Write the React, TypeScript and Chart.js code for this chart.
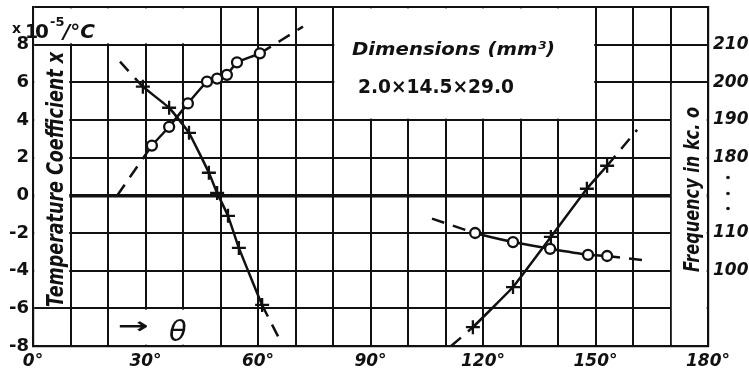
import React, { useEffect, useRef } from 'react';
import { Chart, registerables } from 'chart.js';
Chart.register(...registerables);

// ---- data ----
const xTickLabels = ['0°', '30°', '60°', '90°', '120°', '150°', '180°'];
const yTickValues = [8, 6, 4, 2, 0, -2, -4, -6, -8];
const freqTickValues = [210, 200, 190, 180, 110, 100];

// frequency (kc), low-angle branch (first & last = dashed extension ends)
const freqLowDeg = [22.5, 31.7, 36.3, 41.3, 46.4, 49.1, 51.7, 54.4, 60.5, 72];
const freqLowKc = [170, 183.2, 188.2, 194.4, 200.2, 201, 202, 205.3, 207.7, 214.8];
// temperature coefficient (x10^-5/°C), low-angle branch
const tcLowDeg = [23.2, 29.3, 36.3, 41.6, 46.9, 49.1, 52, 54.9, 61.1, 65.9];
const tcLowVal = [7.1, 5.77, 4.65, 3.32, 1.2, 0.13, -1.09, -2.79, -5.82, -7.7];
// temperature coefficient, high-angle branch
const tcHighDeg = [111.5, 117.3, 128, 138.1, 147.7, 153.1, 161.1];
const tcHighVal = [-8, -7.0, -4.87, -2.21, 0.35, 1.57, 3.48];
// frequency (kc), high-angle branch
const freqHighDeg = [106.4, 117.9, 128, 137.9, 148, 153.1, 162.4];
const freqHighKc = [113.8, 110.0, 107.6, 105.8, 104.2, 103.9, 102.8];

// broken right-hand frequency axis mapped onto the left scale
const freqToAxis = (f: number) => (f >= 150 ? (f - 170) / 5 : (f - 120) / 5);
const freqLabelAt: Record<string, string> = {};
freqTickValues.forEach((f) => { freqLabelAt[String(freqToAxis(f))] = String(f); });

// blank (label) cells of the grid: [x0, x1, y0, y1] in data units
const blankRegions = [
  [0, 50, 8, 10],
  [80, 150, 4, 10],
  [0, 10, -6, 8],
  [170, 180, -8, 6],
  [20, 50, -8, -6],
];

const INK = '#111';

function series(xs: number[], ys: number[], style: string, r: number) {
  const last = xs.length - 1;
  return {
    data: xs.map((x, i) => ({ x, y: ys[i] })),
    showLine: true,
    borderColor: INK,
    borderWidth: 2.5,
    tension: 0.1,
    pointStyle: style,
    pointRadius: (c: any) => (c.dataIndex === 0 || c.dataIndex === last ? 0 : r),
    pointBackgroundColor: '#fff',
    pointBorderColor: INK,
    pointBorderWidth: 2.3,
    segment: {
      borderDash: (c: any) => (c.p0DataIndex === 0 || c.p1DataIndex === last ? [13, 9] : undefined),
    },
  };
}

function fitText(ctx: CanvasRenderingContext2D, text: string, x: number, y: number, width: number, font: string, rotate = false) {
  ctx.save();
  ctx.font = font;
  const w = ctx.measureText(text).width;
  ctx.translate(x, y);
  if (rotate) ctx.rotate(-Math.PI / 2);
  ctx.scale(width / w, 1);
  ctx.textBaseline = 'alphabetic';
  ctx.textAlign = 'left';
  ctx.fillText(text, 0, 0);
  ctx.restore();
}

const overlay = {
  id: 'overlay',
  beforeDatasetsDraw(chart: any) {
    const { ctx } = chart;
    const xs = chart.scales.x, ys = chart.scales.y;
    ctx.save();
    ctx.fillStyle = '#fff';
    for (const [x0, x1, y0, y1] of blankRegions) {
      const L = xs.getPixelForValue(x0), R = xs.getPixelForValue(x1);
      const T = ys.getPixelForValue(y1), B = ys.getPixelForValue(y0);
      ctx.fillRect(L + 1.3, T + 1.3, R - L - 2.6, B - T - 2.6);
    }
    ctx.restore();
  },
  afterDatasetsDraw(chart: any) {
    const { ctx } = chart;
    const ys = chart.scales.y;
    ctx.save();
    ctx.fillStyle = INK;
    const F = '"DejaVu Sans"';
    // unit label
    ctx.font = `bold 14px ${F}`;
    ctx.fillText('x', 12, 33);
    ctx.font = `bold 19px ${F}`;
    ctx.fillText('1', 25, 38);
    ctx.font = `bold 20px ${F}`;
    ctx.fillText('0', 35, 38);
    ctx.font = `bold 13px ${F}`;
    ctx.fillText('-5', 50, 26);
    ctx.font = `italic bold 20px ${F}`;
    ctx.fillText('/°C', 63, 38);
    // dimensions box
    fitText(ctx, 'Dimensions (mm³)', 352, 55, 203, `italic bold 18px ${F}`);
    fitText(ctx, '2.0×14.5×29.0', 358, 93, 156, `bold 19px ${F}`);
    // axis titles
    fitText(ctx, 'Temperature Coefficient x', 63, 307, 255, `italic bold 23px ${F}`, true);
    fitText(ctx, 'Frequency in kc. o', 699, 272, 165, `italic bold 22px ${F}`, true);
    // theta arrow
    fitText(ctx, '→', 118, 333, 31, `bold 22px ${F}`);
    ctx.font = `italic 29px ${F}`;
    ctx.fillText('θ', 169, 341);
    // axis break dots
    for (const v of [0.95, 0.1, -0.7]) {
      ctx.beginPath();
      ctx.arc(728, ys.getPixelForValue(v), 1.8, 0, Math.PI * 2);
      ctx.fill();
    }
    ctx.restore();
  },
};

export default function App() {
  const ref = useRef<HTMLCanvasElement>(null);
  useEffect(() => {
    document.body.style.margin = '0';
    const canvas = ref.current!;
    const chart = new Chart(canvas, {
      type: 'scatter',
      data: {
        datasets: [
          series(tcLowDeg, tcLowVal, 'cross', 7) as any,
          series(tcHighDeg, tcHighVal, 'cross', 7) as any,
          series(freqLowDeg, freqLowKc.map(freqToAxis), 'circle', 5) as any,
          series(freqHighDeg, freqHighKc.map(freqToAxis), 'circle', 5) as any,
        ],
      },
      options: {
        animation: false,
        responsive: false,
        events: [],
        layout: { padding: { top: 7, left: 0, right: 0, bottom: 0 } },
        plugins: { legend: { display: false }, tooltip: { enabled: false } },
        scales: {
          x: {
            type: 'linear',
            min: 0,
            max: 180,
            grid: { color: INK, lineWidth: 2, drawTicks: false },
            border: { display: true, color: INK, width: 2.2 },
            ticks: {
              stepSize: 10,
              autoSkip: false,
              maxRotation: 0,
              padding: 5,
              color: INK,
              font: { family: 'DejaVu Sans', size: 17, weight: 'bold', style: 'italic' },
              callback: (v: any) => (v % 30 === 0 ? xTickLabels[v / 30] : ''),
            },
            afterFit: (s: any) => { s.height = 27; s.paddingLeft = 0; s.paddingRight = 0; },
          },
          y: {
            type: 'linear',
            min: -8,
            max: 10,
            grid: {
              color: INK,
              lineWidth: (c: any) => (c.tick && c.tick.value === 0 ? 3.4 : 2),
              drawTicks: false,
            },
            border: { display: true, color: INK, width: 2.2 },
            ticks: {
              stepSize: 2,
              padding: 4,
              color: INK,
              font: { family: 'DejaVu Sans', size: 18, weight: 'bold' },
              callback: (v: any) => (yTickValues.includes(v) ? String(v) : ''),
            },
            afterFit: (s: any) => { s.width = 33; s.paddingTop = 0; s.paddingBottom = 0; },
          },
          y2: {
            type: 'linear',
            position: 'right',
            min: -8,
            max: 10,
            grid: { display: false, drawTicks: false },
            border: { display: true, color: INK, width: 2.2 },
            ticks: {
              stepSize: 2,
              padding: 5,
              color: INK,
              font: { family: 'DejaVu Sans', size: 17, weight: 'bold', style: 'italic' },
              callback: (v: any) => freqLabelAt[String(v)] ?? '',
            },
            afterFit: (s: any) => { s.width = 41; s.paddingTop = 0; s.paddingBottom = 0; },
          },
        },
      } as any,
      plugins: [overlay],
    });
    return () => chart.destroy();
  }, []);
  return (
    <div style={{ width: 749, height: 373, background: '#fff' }}>
      <canvas ref={ref} width={749} height={373} />
    </div>
  );
}
